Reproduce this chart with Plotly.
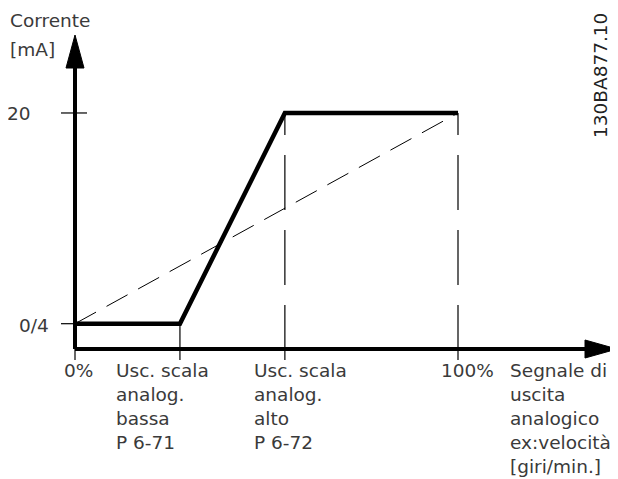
import plotly.graph_objects as go

# signal output (% of range) vs current (mA)
x_points = [0, 27.4, 54.8, 100]
current_ma = [4, 4, 20, 20]
linear_x = [0, 100]
linear_y = [4, 20]
x_low = 27.4
x_high = 54.8
x_full = 100
y_tick_text = ["0/4", "20"]

x_labels = ["0%", "Usc. scala<br>analog.<br>bassa<br>P 6-71",
            "Usc. scala<br>analog.<br>alto<br>P 6-72", "100%",
            "Segnale di<br>uscita<br>analogico<br>ex:velocità<br>[giri/min.]"]

# the page puts the figure at (8, 8); positions below are in screen pixels
OFF = 8
FW, FH = 618 - OFF, 479 - OFF
PL, PR, PT, PB = 58, 618, 30, 369   # plot area on screen
x0px, xs = 75, 3.83
y4px, ys = 323.7, 13.17


def X(px):
    return (px - x0px) / xs


def Y(py):
    return 4 + (y4px - py) / ys


def PX(px):
    return (px - PL) / (PR - PL)


def PY(py):
    return (PB - py) / (PB - PT)


TEXT = dict(family="DejaVu Sans", size=18.5, color="#3a3a3a")
axis_y = Y(349)
below = Y(360)

fig = go.Figure()
fig.add_trace(go.Scatter(x=linear_x, y=linear_y, mode="lines",
                         line=dict(color="black", width=1, dash="24px,12px")))
for xv in [x_high, x_full]:
    fig.add_trace(go.Scatter(x=[xv, xv], y=[below, 20], mode="lines",
                             line=dict(color="black", width=1.2, dash="55px,20px")))
fig.add_trace(go.Scatter(x=[x_low, x_low], y=[below, 4], mode="lines",
                         line=dict(color="black", width=1.2)))
fig.add_trace(go.Scatter(x=x_points, y=current_ma, mode="lines",
                         line=dict(color="black", width=4.5)))

shapes = [
    # axes
    dict(type="line", x0=X(75), x1=X(590), y0=axis_y, y1=axis_y, line=dict(color="black", width=4)),
    dict(type="line", x0=X(75), x1=X(75), y0=axis_y, y1=Y(60), line=dict(color="black", width=4)),
    dict(type="path", path="M %f,%f L %f,%f L %f,%f Z" % (X(585), Y(340), X(617), axis_y, X(585), Y(358)),
         fillcolor="black", line=dict(color="black", width=1)),
    dict(type="path", path="M %f,%f L %f,%f L %f,%f Z" % (X(66), Y(68), X(75), Y(35), X(84), Y(68)),
         fillcolor="black", line=dict(color="black", width=1)),
    # ticks
    dict(type="line", x0=X(61), x1=X(87), y0=20, y1=20, line=dict(color="black", width=1.2)),
    dict(type="line", x0=X(61), x1=X(75), y0=4, y1=4, line=dict(color="black", width=1.2)),
    dict(type="line", x0=0, x1=0, y0=axis_y, y1=below, line=dict(color="black", width=1.2)),
]

ann = []
# y labels
ann.append(dict(x=PX(33), y=PY(113), text=y_tick_text[1], xanchor="right", yanchor="middle"))
ann.append(dict(x=PX(51), y=PY(325), text=y_tick_text[0], xanchor="right", yanchor="middle"))
ann.append(dict(x=PX(OFF), y=PY(20), text="Corrente", xanchor="left", yanchor="middle"))
ann.append(dict(x=PX(OFF), y=PY(49), text="[mA]", xanchor="left", yanchor="middle"))
# x labels
for px, txt in zip([62, 114, 252, 439, 508], x_labels):
    ann.append(dict(x=PX(px), y=PY(358), text=txt, xanchor="left", yanchor="top", align="left"))
for a in ann:
    a.update(xref="paper", yref="paper", showarrow=False, font=TEXT)
# drawing code, rotated (anchor offset found by trial)
ann.append(dict(x=PX(613), y=PY(11), xref="paper", yref="paper", text="130BA877.10", textangle=-90,
                showarrow=False, font=dict(family="DejaVu Sans", size=18.5, color="#222")))

fig.update_layout(
    width=FW, height=FH,
    margin=dict(l=PL - OFF, r=FW - (PR - OFF), t=PT - OFF, b=FH - (PB - OFF)),
    plot_bgcolor="white", paper_bgcolor="white",
    showlegend=False,
    xaxis=dict(visible=False, range=[X(PL), X(PR)]),
    yaxis=dict(visible=False, range=[Y(PB), Y(PT)]),
    shapes=shapes, annotations=ann,
)

fig.write_html("out.html")
